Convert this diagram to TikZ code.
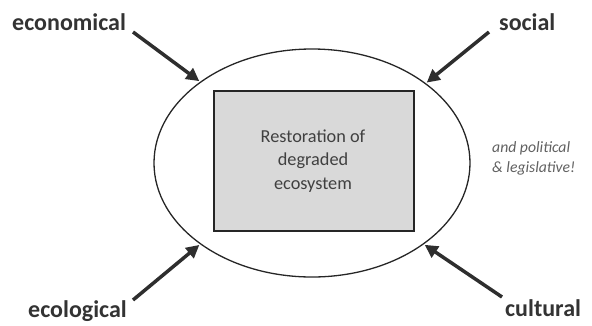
\documentclass[tikz,border=0pt]{standalone}
\usepackage{fontspec}
\setmainfont{Carlito}
\usetikzlibrary{shapes.geometric,arrows.meta}
\definecolor{txt}{HTML}{333333}
\definecolor{inner}{HTML}{404040}
\definecolor{boxfill}{HTML}{D9D9D9}
\definecolor{arr}{HTML}{2E2E2E}
\tikzset{
  lbl/.style={font=\fontsize{24}{28}\selectfont\bfseries, text=txt, inner sep=0pt},
  push/.style={draw=arr, line width=3.5pt, -{Triangle[length=13pt,width=13pt]}, shorten >=1pt},
}
\begin{document}
\begin{tikzpicture}[x=1pt,y=-1pt]
\useasboundingbox (0,0) rectangle (592,325);
\node[ellipse, draw=black!85, line width=1.3pt, minimum width=316pt, minimum height=228pt, inner sep=0pt] (ell) at (312,163) {};
\node[draw=black!85, line width=1.2pt, fill=boxfill, minimum width=200pt, minimum height=140pt, inner sep=0pt] (box) at (314,161) {};
\node[align=center, text=inner, font=\fontsize{18.3}{23.5}\selectfont, inner sep=0pt] (core) at (313,161) {Restoration of\\degraded\\ecosystem};
\node[align=left, text=black!62, font=\fontsize{15.7}{20}\selectfont\itshape, inner sep=0pt, anchor=west] (pol) at (492,158) {and political\\\& legislative!};
\node[lbl, anchor=west] (eco) at (12,22) {economical};
\node[lbl, anchor=west] (soc) at (499,22) {social};
\node[lbl, anchor=west] (ecl) at (28,311) {ecological};
\node[lbl, anchor=west] (cul) at (505,308) {cultural};
\coordinate (t1) at (133,32);
\coordinate (t2) at (489,32);
\coordinate (t3) at (133,300);
\coordinate (t4) at (502,297);
\draw[push] (t1) -- (ell.144);
\draw[push] (t2) -- (ell.35);
\draw[push] (t3) -- (ell.216.5);
\draw[push] (t4) -- (ell.324.7);
\end{tikzpicture}
\end{document}
